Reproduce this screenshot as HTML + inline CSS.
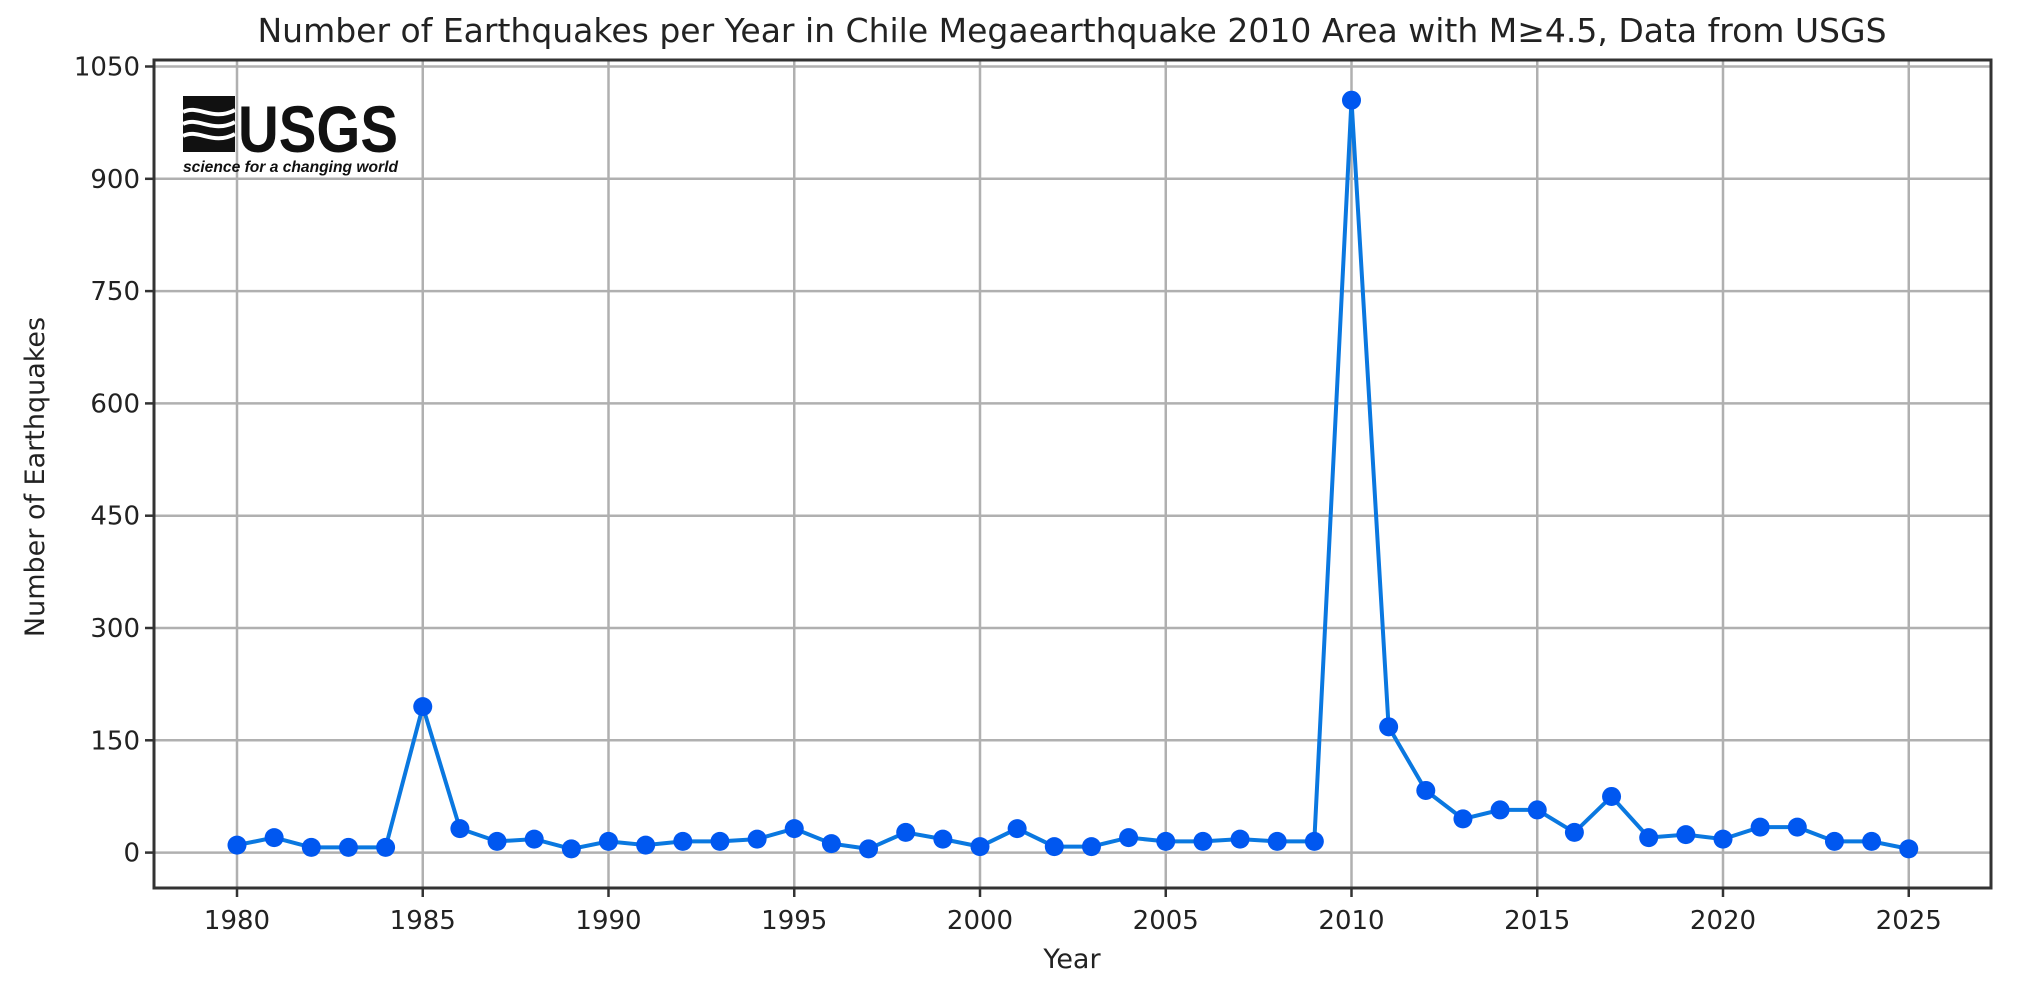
<!DOCTYPE html>
<html><head><meta charset="utf-8"><style>
html,body{margin:0;padding:0;background:#fff;}
svg{display:block;font-family:"DejaVu Sans","Liberation Sans",sans-serif;}
</style></head><body>
<svg width="2044" height="984" viewBox="0 0 2044 984" xmlns="http://www.w3.org/2000/svg">
<rect width="2044" height="984" fill="#fff"/>
<text x="1072" y="42" font-size="33" text-anchor="middle" fill="#222">Number of Earthquakes per Year in Chile Megaearthquake 2010 Area with M≥4.5, Data from USGS</text>
<g id="grid" stroke="#b0b0b0" stroke-width="2.5">
</g>
<g id="plot"></g>
<rect x="154" y="60" width="1837" height="828" fill="none" stroke="#333" stroke-width="3"/>
<!-- logo -->
<g>
<rect x="183" y="96" width="52" height="56" fill="#111"/>
<path d="M183 112 C198 104,213 122,235 110 M183 124 C198 116,213 134,235 122 M183 136 C198 128,213 146,235 134" stroke="#fff" stroke-width="4" fill="none"/>
<text x="238" y="152" font-family="Liberation Sans Narrow,Liberation Sans,sans-serif" font-weight="bold" font-size="66" fill="#111" textLength="160" lengthAdjust="spacingAndGlyphs">USGS</text>
<text x="183" y="172" font-family="Liberation Sans,sans-serif" font-style="italic" font-weight="bold" font-size="16" fill="#111" textLength="215" lengthAdjust="spacingAndGlyphs">science for a changing world</text>
</g>
<text x="1072" y="968" font-size="27" text-anchor="middle" fill="#222">Year</text>
<text transform="translate(44,477) rotate(-90)" font-size="27" text-anchor="middle" fill="#222">Number of Earthquakes</text>
</svg>
<script>
var ns="http://www.w3.org/2000/svg",svg=document.querySelector('svg');
var g=document.getElementById('grid'),p=document.getElementById('plot');
function X(yr){return 237+(yr-1980)*37.15;}
function Y(v){return 852.6-v*(786.1/1050);}
function el(t,a,par){var e=document.createElementNS(ns,t);for(var k in a)e.setAttribute(k,a[k]);(par||svg).appendChild(e);return e;}
for(var yr=1980;yr<=2025;yr+=5){var x=X(yr);el('line',{x1:x,x2:x,y1:60,y2:888},g);
el('line',{x1:x,x2:x,y1:888,y2:897,stroke:'#333','stroke-width':2.5});
var t=el('text',{x:x,y:929,'font-size':26,'text-anchor':'middle',fill:'#222'});t.textContent=yr;}
for(var v=0;v<=1050;v+=150){var y=Y(v);el('line',{x1:154,x2:1991,y1:y,y2:y},g);
el('line',{x1:145,x2:154,y1:y,y2:y,stroke:'#333','stroke-width':2.5});
var t=el('text',{x:140,y:y+9,'font-size':26,'text-anchor':'end',fill:'#222'});t.textContent=v;}
var d=[10,20,7,7,7,195,32,15,18,5,15,10,15,15,18,32,12,5,27,18,8,32,8,8,20,15,15,18,15,15,1005,168,83,45,57,57,27,75,20,24,18,34,34,15,15,5];
var pts=d.map(function(v,i){return X(1980+i).toFixed(1)+','+Y(v).toFixed(1);}).join(' ');
el('polyline',{points:pts,fill:'none',stroke:'#0a78e0','stroke-width':4},p);
d.forEach(function(v,i){el('circle',{cx:X(1980+i),cy:Y(v),r:9.5,fill:'#0057f0'},p);});
</script>
</body></html>
